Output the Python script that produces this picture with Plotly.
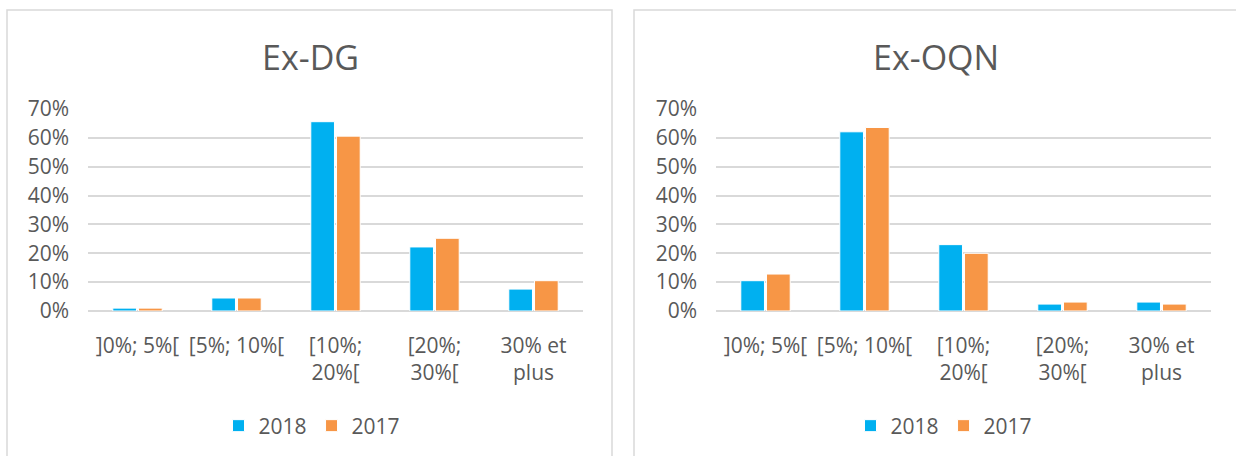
import plotly.graph_objects as go

categories = ["]0%; 5%[", "[5%; 10%[", "[10%;<br>20%[", "[20%;<br>30%[", "30% et<br>plus"]
dg_2018 = [0.010, 0.045, 0.656, 0.222, 0.076]
dg_2017 = [0.010, 0.045, 0.606, 0.252, 0.105]
oqn_2018 = [0.105, 0.621, 0.230, 0.024, 0.031]
oqn_2017 = [0.128, 0.636, 0.200, 0.031, 0.024]
titles = ["Ex-DG", "Ex-OQN"]
series_names = ["2018", "2017"]
colors = ["#00B0F0", "#F79646"]

W, H = 1236, 456
FONT = "Open Sans"
GREY = "#595959"
GRID = "#D9D9D9"

fig = go.Figure()

fig.add_trace(go.Bar(x=categories, y=dg_2018, name=series_names[0], marker=dict(color=colors[0], line=dict(color="white", width=1)),
                     xaxis="x", yaxis="y", legend="legend"))
fig.add_trace(go.Bar(x=categories, y=dg_2017, name=series_names[1], marker=dict(color=colors[1], line=dict(color="white", width=1)),
                     xaxis="x", yaxis="y", legend="legend"))
fig.add_trace(go.Bar(x=categories, y=oqn_2018, name=series_names[0], marker=dict(color=colors[0], line=dict(color="white", width=1)),
                     xaxis="x2", yaxis="y2", legend="legend2"))
fig.add_trace(go.Bar(x=categories, y=oqn_2017, name=series_names[1], marker=dict(color=colors[1], line=dict(color="white", width=1)),
                     xaxis="x2", yaxis="y2", legend="legend2"))

ydom = [1 - 311 / H, 1 - 109 / H]
xax = dict(showgrid=False, showline=False, zeroline=False, ticks="", automargin=False,
           tickfont=dict(family=FONT, size=21, color=GREY), ticklabelstandoff=20, fixedrange=True)
yax = dict(range=[0, 0.7], dtick=0.1, tickformat=".0%", showgrid=True, gridcolor=GRID, gridwidth=1.5,
           zeroline=True, zerolinecolor=GRID, zerolinewidth=1.5, showline=False, ticks="", automargin=False,
           tickfont=dict(family=FONT, size=21, color=GREY), ticklabelstandoff=18, fixedrange=True)

leg = dict(orientation="h", xanchor="center", yanchor="middle", font=dict(family=FONT, size=21, color=GREY),
           bgcolor="rgba(0,0,0,0)", itemclick=False, traceorder="normal")

fig.update_layout(
    width=W, height=H, margin=dict(l=0, r=0, t=0, b=0),
    paper_bgcolor="white", plot_bgcolor="white",
    barmode="group", bargap=0.48, bargroupgap=0.08,
    xaxis=dict(domain=[88 / W, 583 / W], anchor="y", **xax),
    yaxis=dict(domain=ydom, anchor="x", **yax),
    xaxis2=dict(domain=[716 / W, 1211 / W], anchor="y2", **xax),
    yaxis2=dict(domain=ydom, anchor="x2", **yax),
    legend=dict(x=312 / W, y=1 - 426 / H, **leg),
    legend2=dict(x=944 / W, y=1 - 426 / H, **leg),
    showlegend=True,
    shapes=[
        dict(type="rect", xref="paper", yref="paper", x0=7 / W, x1=612 / W, y0=-0.2, y1=1 - 10 / H,
             line=dict(color=GRID, width=1.5), fillcolor="rgba(0,0,0,0)", layer="below"),
        dict(type="rect", xref="paper", yref="paper", x0=634 / W, x1=1.2, y0=-0.2, y1=1 - 10 / H,
             line=dict(color=GRID, width=1.5), fillcolor="rgba(0,0,0,0)", layer="below"),
    ],
    annotations=[
        dict(text=titles[0], x=310 / W, y=1 - 57 / H, xref="paper", yref="paper", showarrow=False,
             xanchor="center", yanchor="middle", font=dict(family=FONT, size=34, color=GREY)),
        dict(text=titles[1], x=936 / W, y=1 - 57 / H, xref="paper", yref="paper", showarrow=False,
             xanchor="center", yanchor="middle", font=dict(family=FONT, size=34, color=GREY)),
    ],
)

fig.write_html("out.html", config={"displayModeBar": False})
